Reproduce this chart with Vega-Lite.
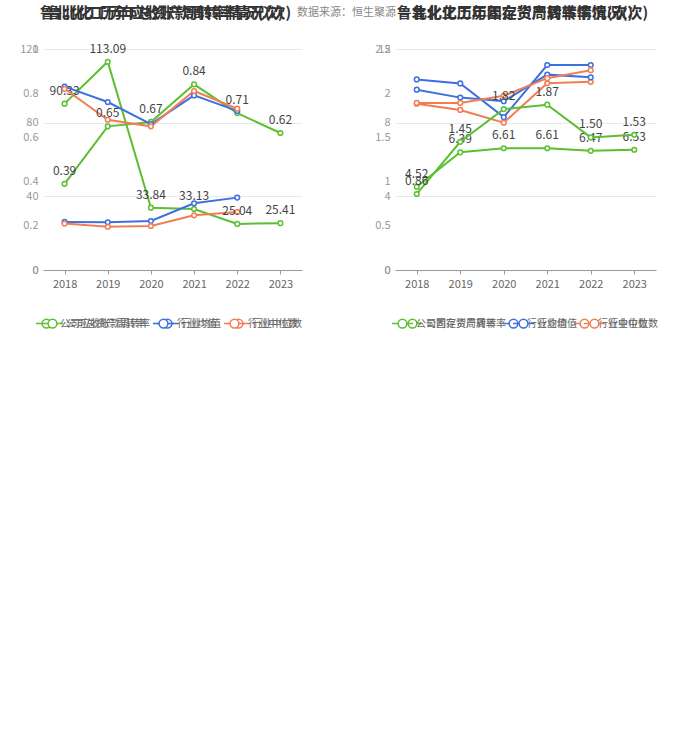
{
  "$schema": "https://vega.github.io/schema/vega-lite/v6.json",
  "background": "white",
  "padding": 5,
  "title": {"text": "数据来源：恒生聚源", "anchor": "start", "frame": "group", "dx": 254, "offset": -12, "fontSize": 11, "fontWeight": "normal", "color": "#888", "font": "Noto Sans CJK SC"},
  "config": {
    "view": {"stroke": null},
    "font": "Noto Sans CJK SC",
    "axisX": {"title": null, "labelAngle": 0, "domainColor": "#999", "tickColor": "#999", "tickSize": 4, "labelColor": "#666", "labelFontSize": 11, "grid": false, "labelPadding": 4},
    "axisY": {"title": null, "domain": false, "ticks": false, "gridColor": "#e9e9e9", "labelColor": "#999", "labelFontSize": 11, "labelPadding": 5},
    "legend": {"orient": "none", "direction": "horizontal", "title": null, "symbolType": "M-1,0H-0.42M0.42,0H1M0.42,0A0.42,0.42,0,1,1,-0.42,0A0.42,0.42,0,1,1,0.42,0Z", "symbolSize": 440, "symbolStrokeWidth": 1.5, "symbolFillColor": "white", "labelFontSize": 10, "labelColor": "#666", "columnPadding": 4, "labelOffset": 2}
  },
  "spacing": 53,
  "datasets": {
    "left": [
      {"chart": "A", "series": "公司应收账款周转率", "year": "2018", "value": 90.33},
      {"chart": "A", "series": "公司应收账款周转率", "year": "2019", "value": 113.09},
      {"chart": "A", "series": "公司应收账款周转率", "year": "2020", "value": 33.84},
      {"chart": "A", "series": "公司应收账款周转率", "year": "2021", "value": 33.13},
      {"chart": "A", "series": "公司应收账款周转率", "year": "2022", "value": 25.04},
      {"chart": "A", "series": "公司应收账款周转率", "year": "2023", "value": 25.41},
      {"chart": "A", "series": "行业均值", "year": "2018", "value": 26.1},
      {"chart": "A", "series": "行业均值", "year": "2019", "value": 25.9},
      {"chart": "A", "series": "行业均值", "year": "2020", "value": 26.6},
      {"chart": "A", "series": "行业均值", "year": "2021", "value": 36.2},
      {"chart": "A", "series": "行业均值", "year": "2022", "value": 39.3},
      {"chart": "A", "series": "行业中位数", "year": "2018", "value": 25.2},
      {"chart": "A", "series": "行业中位数", "year": "2019", "value": 23.5},
      {"chart": "A", "series": "行业中位数", "year": "2020", "value": 23.9},
      {"chart": "A", "series": "行业中位数", "year": "2021", "value": 29.7},
      {"chart": "A", "series": "行业中位数", "year": "2022", "value": 31.5},
      {"chart": "B", "series": "公司总资产周转率", "year": "2018", "value": 0.39},
      {"chart": "B", "series": "公司总资产周转率", "year": "2019", "value": 0.65},
      {"chart": "B", "series": "公司总资产周转率", "year": "2020", "value": 0.67},
      {"chart": "B", "series": "公司总资产周转率", "year": "2021", "value": 0.84},
      {"chart": "B", "series": "公司总资产周转率", "year": "2022", "value": 0.71},
      {"chart": "B", "series": "公司总资产周转率", "year": "2023", "value": 0.62},
      {"chart": "B", "series": "行业均值", "year": "2018", "value": 0.83},
      {"chart": "B", "series": "行业均值", "year": "2019", "value": 0.76},
      {"chart": "B", "series": "行业均值", "year": "2020", "value": 0.66},
      {"chart": "B", "series": "行业均值", "year": "2021", "value": 0.79},
      {"chart": "B", "series": "行业均值", "year": "2022", "value": 0.72},
      {"chart": "B", "series": "行业中位数", "year": "2018", "value": 0.82},
      {"chart": "B", "series": "行业中位数", "year": "2019", "value": 0.68},
      {"chart": "B", "series": "行业中位数", "year": "2020", "value": 0.65},
      {"chart": "B", "series": "行业中位数", "year": "2021", "value": 0.81},
      {"chart": "B", "series": "行业中位数", "year": "2022", "value": 0.73}
    ],
    "right": [
      {"chart": "C", "series": "公司存货周转率", "year": "2018", "value": 4.52},
      {"chart": "C", "series": "公司存货周转率", "year": "2019", "value": 6.39},
      {"chart": "C", "series": "公司存货周转率", "year": "2020", "value": 6.61},
      {"chart": "C", "series": "公司存货周转率", "year": "2021", "value": 6.61},
      {"chart": "C", "series": "公司存货周转率", "year": "2022", "value": 6.47},
      {"chart": "C", "series": "公司存货周转率", "year": "2023", "value": 6.53},
      {"chart": "C", "series": "行业均值", "year": "2018", "value": 10.35},
      {"chart": "C", "series": "行业均值", "year": "2019", "value": 10.13},
      {"chart": "C", "series": "行业均值", "year": "2020", "value": 8.3},
      {"chart": "C", "series": "行业均值", "year": "2021", "value": 11.13},
      {"chart": "C", "series": "行业均值", "year": "2022", "value": 11.13},
      {"chart": "C", "series": "行业中位数", "year": "2018", "value": 9.03},
      {"chart": "C", "series": "行业中位数", "year": "2019", "value": 8.69},
      {"chart": "C", "series": "行业中位数", "year": "2020", "value": 8.0},
      {"chart": "C", "series": "行业中位数", "year": "2021", "value": 10.14},
      {"chart": "C", "series": "行业中位数", "year": "2022", "value": 10.22},
      {"chart": "D", "series": "公司固定资产周转率", "year": "2018", "value": 0.86},
      {"chart": "D", "series": "公司固定资产周转率", "year": "2019", "value": 1.45},
      {"chart": "D", "series": "公司固定资产周转率", "year": "2020", "value": 1.82},
      {"chart": "D", "series": "公司固定资产周转率", "year": "2021", "value": 1.87},
      {"chart": "D", "series": "公司固定资产周转率", "year": "2022", "value": 1.50},
      {"chart": "D", "series": "公司固定资产周转率", "year": "2023", "value": 1.53},
      {"chart": "D", "series": "行业均值", "year": "2018", "value": 2.04},
      {"chart": "D", "series": "行业均值", "year": "2019", "value": 1.95},
      {"chart": "D", "series": "行业均值", "year": "2020", "value": 1.91},
      {"chart": "D", "series": "行业均值", "year": "2021", "value": 2.21},
      {"chart": "D", "series": "行业均值", "year": "2022", "value": 2.18},
      {"chart": "D", "series": "行业中位数", "year": "2018", "value": 1.89},
      {"chart": "D", "series": "行业中位数", "year": "2019", "value": 1.89},
      {"chart": "D", "series": "行业中位数", "year": "2020", "value": 1.97},
      {"chart": "D", "series": "行业中位数", "year": "2021", "value": 2.17},
      {"chart": "D", "series": "行业中位数", "year": "2022", "value": 2.26}
    ]
  },
  "hconcat": [
    {
      "width": 259,
      "height": 221,
      "data": {"name": "left"},
      "title": {"text": "鲁北化工历年应收账款周转率情况(次)", "subtitle": "鲁北化工历年总资产周转率情况(次)", "anchor": "middle", "dx": -7, "fontSize": 15, "fontWeight": "bold", "color": "#333", "subtitleFontSize": 15, "subtitleFontWeight": "bold", "subtitleColor": "#333", "subtitlePadding": -15, "offset": 22},
      "layer": [
        {
          "transform": [{"filter": "datum.chart === 'A'"}],
          "layer": [
            {
              "mark": {"type": "line", "strokeWidth": 2, "point": {"filled": false, "fill": "white", "size": 22, "strokeWidth": 1.5}},
              "encoding": {
                "x": {"field": "year", "type": "ordinal", "scale": {"padding": 0.5}},
                "y": {"field": "value", "type": "quantitative", "scale": {"domain": [0, 120], "nice": false}, "axis": {"orient": "left", "values": [0, 20, 40, 60, 80, 100, 120], "minExtent": 38}},
                "color": {"field": "series", "type": "nominal", "scale": {"domain": ["公司应收账款周转率", "行业均值", "行业中位数"], "range": ["#5bbf2e", "#3d6fe0", "#f27d55"]}, "legend": {"legendX": -8, "legendY": 263}}
              }
            },
            {
              "transform": [{"filter": "datum.series === '公司应收账款周转率'"}],
              "mark": {"type": "text", "baseline": "bottom", "dy": -6, "fontSize": 12, "color": "#444"},
              "encoding": {
                "x": {"field": "year", "type": "ordinal"},
                "y": {"field": "value", "type": "quantitative"},
                "text": {"field": "value", "type": "quantitative", "format": ".2f"}
              }
            }
          ]
        },
        {
          "transform": [{"filter": "datum.chart === 'B'"}],
          "layer": [
            {
              "mark": {"type": "line", "strokeWidth": 2, "point": {"filled": false, "fill": "white", "size": 22, "strokeWidth": 1.5}},
              "encoding": {
                "x": {"field": "year", "type": "ordinal"},
                "y": {"field": "value", "type": "quantitative", "scale": {"domain": [0, 1], "nice": false}, "axis": {"orient": "left", "values": [0, 0.2, 0.4, 0.6, 0.8, 1.0], "format": "~g", "minExtent": 38}},
                "color": {"field": "series", "type": "nominal", "scale": {"domain": ["公司总资产周转率", "行业均值", "行业中位数"], "range": ["#5bbf2e", "#3d6fe0", "#f27d55"]}, "legend": {"legendX": -2, "legendY": 263}}
              }
            },
            {
              "transform": [{"filter": "datum.series === '公司总资产周转率'"}],
              "mark": {"type": "text", "baseline": "bottom", "dy": -6, "fontSize": 12, "color": "#444"},
              "encoding": {
                "x": {"field": "year", "type": "ordinal"},
                "y": {"field": "value", "type": "quantitative"},
                "text": {"field": "value", "type": "quantitative", "format": ".2f"}
              }
            }
          ]
        }
      ],
      "resolve": {"scale": {"y": "independent", "color": "independent"}}
    },
    {
      "width": 261,
      "height": 221,
      "data": {"name": "right"},
      "title": {"text": "鲁北化工历年固定资产周转率情况(次)", "subtitle": "鲁北化工历年存货周转率情况(次)", "anchor": "middle", "dx": -3, "fontSize": 15, "fontWeight": "bold", "color": "#333", "subtitleFontSize": 15, "subtitleFontWeight": "bold", "subtitleColor": "#333", "subtitlePadding": -15, "offset": 22},
      "layer": [
        {
          "transform": [{"filter": "datum.chart === 'C'"}],
          "layer": [
            {
              "mark": {"type": "line", "strokeWidth": 2, "point": {"filled": false, "fill": "white", "size": 22, "strokeWidth": 1.5}},
              "encoding": {
                "x": {"field": "year", "type": "ordinal", "scale": {"padding": 0.5}},
                "y": {"field": "value", "type": "quantitative", "scale": {"domain": [0, 12], "nice": false}, "axis": {"orient": "left", "values": [0, 2, 4, 6, 8, 10, 12], "minExtent": 40}},
                "color": {"field": "series", "type": "nominal", "scale": {"domain": ["公司存货周转率", "行业均值", "行业中位数"], "range": ["#5bbf2e", "#3d6fe0", "#f27d55"]}, "legend": {"legendX": 6, "legendY": 263}}
              }
            },
            {
              "transform": [{"filter": "datum.series === '公司存货周转率'"}],
              "mark": {"type": "text", "baseline": "bottom", "dy": -6, "fontSize": 12, "color": "#444"},
              "encoding": {
                "x": {"field": "year", "type": "ordinal"},
                "y": {"field": "value", "type": "quantitative"},
                "text": {"field": "value", "type": "quantitative", "format": ".2f"}
              }
            }
          ]
        },
        {
          "transform": [{"filter": "datum.chart === 'D'"}],
          "layer": [
            {
              "mark": {"type": "line", "strokeWidth": 2, "point": {"filled": false, "fill": "white", "size": 22, "strokeWidth": 1.5}},
              "encoding": {
                "x": {"field": "year", "type": "ordinal"},
                "y": {"field": "value", "type": "quantitative", "scale": {"domain": [0, 2.5], "nice": false}, "axis": {"orient": "left", "values": [0, 0.5, 1, 1.5, 2, 2.5], "format": "~g", "minExtent": 40}},
                "color": {"field": "series", "type": "nominal", "scale": {"domain": ["公司固定资产周转率", "行业均值", "行业中位数"], "range": ["#5bbf2e", "#3d6fe0", "#f27d55"]}, "legend": {"legendX": -4, "legendY": 263}}
              }
            },
            {
              "transform": [{"filter": "datum.series === '公司固定资产周转率'"}],
              "mark": {"type": "text", "baseline": "bottom", "dy": -6, "fontSize": 12, "color": "#444"},
              "encoding": {
                "x": {"field": "year", "type": "ordinal"},
                "y": {"field": "value", "type": "quantitative"},
                "text": {"field": "value", "type": "quantitative", "format": ".2f"}
              }
            }
          ]
        }
      ],
      "resolve": {"scale": {"y": "independent", "color": "independent"}}
    }
  ]
}
